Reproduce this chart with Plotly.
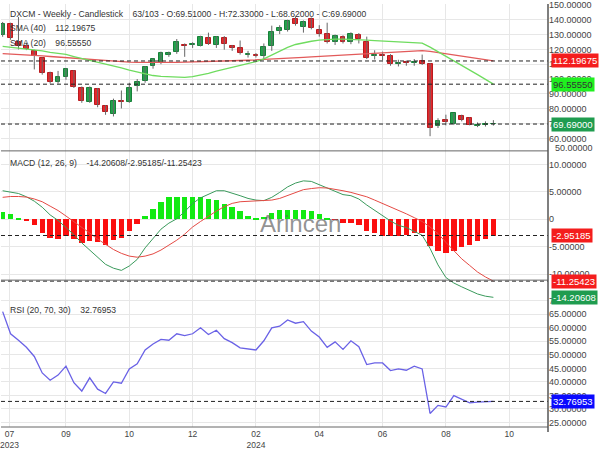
import pandas as pd
import plotly.graph_objects as go
from plotly.subplots import make_subplots

# weekly candles, first visible week -> last week
dates = pd.date_range("2023-07-10", periods=63, freq="7D")

opens = [129.7, 136.9, 124.7, 122.4, 119.0, 113.9, 103.8, 98.3, 101.1, 105.5,
         93.9, 84.6, 93.0, 81.8, 76.5, 85.2, 84.6, 95.2, 98.9, 109.0,
         111.5, 116.1, 118.1, 122.9, 122.8, 122.4, 127.5, 123.1, 128.0, 122.0,
         120.9, 116.2, 116.1, 115.8, 122.0, 132.6, 133.4, 140.7, 135.2, 140.7,
         133.4, 130.1, 124.7, 128.6, 124.7, 129.7, 125.3, 115.8, 116.0, 115.8,
         110.3, 111.2, 111.0, 112.1, 110.4, 68.1, 72.6, 69.7, 75.4, 73.6,
         68.6, 69.1, 69.51]
highs = [138.5, 138.0, 141.8, 124.5, 119.8, 114.5, 105.0, 105.5, 107.5, 106.0,
         95.0, 95.0, 94.0, 82.5, 86.8, 92.3, 97.5, 100.0, 108.8, 114.0,
         118.5, 118.5, 127.0, 124.0, 124.8, 129.2, 131.3, 129.0, 129.0, 123.0,
         126.0, 119.0, 117.5, 124.0, 136.0, 136.3, 140.0, 142.0, 139.5, 141.5,
         136.3, 138.0, 130.0, 129.5, 131.5, 131.0, 128.6, 119.4, 118.5, 116.8,
         113.0, 112.5, 113.5, 116.5, 110.7, 73.6, 76.0, 77.2, 76.0, 74.2,
         70.8, 71.5, 72.33]
lows = [128.5, 126.5, 120.0, 119.5, 106.5, 103.0, 97.0, 97.0, 99.5, 94.0,
        84.0, 84.0, 81.0, 75.9, 74.8, 80.2, 84.0, 91.7, 97.5, 107.0,
        110.0, 115.0, 117.0, 115.0, 121.0, 122.0, 123.0, 121.0, 119.8, 119.0,
        116.5, 114.5, 114.5, 113.0, 119.0, 130.3, 132.0, 136.0, 131.3, 133.5,
        128.6, 124.0, 123.0, 124.0, 123.5, 124.0, 113.5, 113.2, 112.7, 109.0,
        108.5, 109.0, 109.0, 109.5, 61.5, 67.0, 68.8, 69.0, 71.5, 68.8,
        67.6, 68.0, 68.62]
closes = [137.0, 127.5, 122.4, 120.2, 115.4, 104.0, 98.3, 101.1, 106.6, 94.5,
          85.1, 93.9, 82.5, 78.0, 85.3, 84.6, 93.9, 98.3, 108.2, 113.2,
          117.6, 117.6, 125.3, 122.0, 123.5, 128.6, 123.7, 128.6, 123.7, 121.0,
          117.6, 116.8, 115.4, 121.5, 131.9, 134.1, 139.2, 137.4, 138.5, 134.1,
          130.3, 125.3, 129.0, 124.7, 130.3, 126.8, 114.3, 116.5, 115.6, 109.9,
          110.8, 110.7, 111.6, 110.4, 67.0, 71.9, 70.8, 76.9, 72.6, 69.3,
          69.0, 69.5, 69.69]

sma40 = [117.1, 116.9, 116.6, 116.3, 116.0, 115.6, 115.2, 114.8, 114.3, 113.9,
         113.4, 113.0, 112.6, 112.2, 111.9, 111.6, 111.4, 111.3, 111.2, 111.2,
         111.2, 111.2, 111.3, 111.4, 111.5, 111.6, 111.8, 111.9, 112.1, 112.3,
         112.5, 112.7, 112.9, 113.1, 113.3, 113.6, 113.9, 114.2, 114.6, 114.9,
         115.2, 115.5, 115.8, 116.1, 116.5, 116.9, 117.3, 117.7, 118.0, 118.3,
         118.6, 118.8, 119.0, 119.2, 118.6, 117.8, 117.0, 116.1, 115.2, 114.3,
         113.5, 112.8, 112.19675]
sma20 = [122.0, 121.4, 120.8, 120.3, 119.8, 119.0, 118.0, 117.2, 116.6, 115.2,
         114.0, 112.6, 111.4, 110.3, 108.9, 107.5, 106.1, 104.7, 103.3, 102.4,
         101.8, 101.4, 101.1, 101.1, 101.6, 102.6, 103.9, 105.3, 106.6, 107.6,
         108.8, 110.2, 111.7, 113.6, 116.3, 118.8, 121.3, 123.3, 124.6, 125.5,
         126.2, 126.7, 126.9, 126.9, 126.8, 126.6, 126.3, 125.9, 125.6, 125.3,
         125.0, 124.8, 124.5, 124.2, 121.5, 118.5, 115.4, 112.3, 109.2, 106.1,
         103.0, 99.8, 96.5555]

macd = [5.2, 5.0, 4.7, 4.1, 3.3, 2.2, 0.8, -0.2, -1.5, -2.8,
        -4.3, -5.6, -7.0, -8.2, -8.9, -9.3, -8.5, -7.3, -5.2, -3.4,
        -1.8, -0.7, 0.1, 1.4, 2.9, 3.9, 4.6, 5.2, 5.2, 4.8,
        4.3, 3.8, 3.5, 3.4, 4.0, 4.9, 5.9, 6.6, 7.0, 6.9,
        6.3, 5.7, 5.0, 4.5, 4.3, 3.7, 2.6, 1.6, 0.7, -0.3,
        -1.1, -1.5, -2.2, -2.9, -5.3, -8.3, -10.6, -11.6, -12.3, -13.0,
        -13.6, -14.0, -14.20608]
signal = [4.0, 4.15, 4.15, 4.05, 3.7, 3.2, 2.4, 1.6, 0.6, -0.4,
          -1.5, -2.5, -3.6, -4.6, -5.5, -6.2, -6.7, -6.9, -6.7, -6.3,
          -5.6, -4.7, -3.8, -2.7, -1.4, -0.4, 0.6, 1.5, 2.3, 2.9,
          3.2, 3.3, 3.3, 3.4, 3.5, 3.8, 4.3, 4.9, 5.4, 5.6,
          5.75, 5.7, 5.5, 5.2, 4.9, 4.55, 4.1, 3.5, 2.9, 2.3,
          1.7, 1.0, 0.3, -0.4, -1.4, -2.6, -4.2, -5.8, -7.2, -8.4,
          -9.6, -10.5, -11.25423]
hist = [1.3, 0.9, 0.3, -0.2, -1.07, -2.4, -3.3, -3.6, -3.1, -3.6,
        -4.3, -4.0, -4.15, -4.6, -3.7, -3.3, -2.1, -0.9, 0.6, 1.96,
        3.26, 4.0, 4.0, 4.0, 4.0, 4.15, 3.8, 3.45, 2.8, 2.2,
        1.6, 0.6, 0.15, 0.5, 1.2, 1.8, 1.8, 1.8, 1.8, 1.5,
        0.9, 0.3, -0.1, -0.6, -0.6, -1.07, -2.1, -2.5, -3.0, -3.1,
        -3.0, -2.85, -2.55, -2.55, -4.9, -5.8, -6.2, -5.75, -5.05, -4.6,
        -4.0, -3.6, -2.95185]

rsi = [66.0, 57.8, 55.4, 52.8, 49.4, 43.3, 40.6, 42.5, 45.8, 39.7,
       36.6, 41.5, 37.3, 35.7, 40.0, 39.5, 44.8, 46.7, 51.8, 54.0,
       55.7, 55.4, 57.8, 57.1, 57.8, 60.0, 57.5, 59.1, 56.0, 54.5,
       52.6, 52.2, 51.8, 55.2, 60.0, 60.6, 62.9, 61.7, 62.3, 58.8,
       56.6, 52.8, 54.8, 52.0, 55.2, 53.0, 46.4, 47.0, 47.0, 44.2,
       44.8, 44.3, 45.8, 44.8, 28.3, 31.3, 30.7, 34.9, 33.4, 32.2,
       32.5, 32.7, 32.76953]
RSI_UPPER, RSI_LOWER = 70, 30

tick_dates = ["2023-07-16", "2023-09-04", "2023-10-30", "2023-12-25", "2024-02-19",
              "2024-04-15", "2024-06-10", "2024-08-05", "2024-09-30"]
tick_labels = ["07<br>2023", "09", "10", "12", "02<br>2024", "04", "06", "08", "10"]
price_ticks = [60, 70, 80, 90, 100, 110, 120, 130, 140, 150]
macd_ticks = [-10, -5, 0, 5, 10]
macd_tick_labels = ["-10.00000", "-5.00000", "0", "5.00000", "10.00000"]
rsi_ticks = [25, 30, 35, 40, 45, 50, 55, 60, 65, 70]

FONT = "Liberation Sans"
GREEN = "#24a14c"
RED = "#e4272c"
NB = "\u00a0" * 4
PLOT_H = 432


def py(px):
    # pixel offset from top of plot area -> paper coordinate
    return 1 - px / PLOT_H


fig = make_subplots(rows=3, cols=1, shared_xaxes=True, vertical_spacing=0,
                    row_heights=[150, 152, 130])

# price panel: wicks, bodies, SMAs
wick_x, wick_y = [], []
for d, lo, hi in zip(dates, lows, highs):
    wick_x += [d, d, None]
    wick_y += [lo, hi, None]
fig.add_trace(go.Scatter(x=wick_x, y=wick_y, mode="lines",
                         line=dict(color="#666666", width=1)), row=1, col=1)

body_base = [min(o, c) for o, c in zip(opens, closes)]
body_len = [abs(c - o) for o, c in zip(opens, closes)]
body_col = [GREEN if c >= o else RED for o, c in zip(opens, closes)]
body_edge = ["#178039" if c >= o else "#b81b1f" for o, c in zip(opens, closes)]
day_ms = 86400000
fig.add_trace(go.Bar(x=dates, y=body_len, base=body_base, width=4.3 * day_ms,
                     marker=dict(color=body_col, line=dict(color=body_edge, width=1))),
              row=1, col=1)
fig.add_trace(go.Scatter(x=dates, y=sma40, mode="lines",
                         line=dict(color="#e25a5a", width=1.3)), row=1, col=1)
fig.add_trace(go.Scatter(x=dates, y=sma20, mode="lines",
                         line=dict(color="#6fdc5f", width=1.3)), row=1, col=1)

# MACD panel
hist_col = ["#12ea12" if h >= 0 else "#fb0f0f" for h in hist]
fig.add_trace(go.Bar(x=dates, y=hist, width=4.8 * day_ms,
                     marker=dict(color=hist_col, line=dict(width=0))), row=2, col=1)
fig.add_trace(go.Scatter(x=dates, y=macd, mode="lines",
                         line=dict(color="#3a9a5c", width=1)), row=2, col=1)
fig.add_trace(go.Scatter(x=dates, y=signal, mode="lines",
                         line=dict(color="#e44a44", width=1)), row=2, col=1)

# RSI panel
fig.add_hline(y=RSI_UPPER, line=dict(color="#f3c682", width=2), row=3, col=1)
fig.add_hline(y=RSI_LOWER, line=dict(color="#b48cf0", width=2), row=3, col=1)
fig.add_trace(go.Scatter(x=dates, y=rsi, mode="lines",
                         line=dict(color="#6a62e6", width=1.3)), row=3, col=1)

# current value markers: dashed line + coloured box on the right axis
markers = [
    (sma40[-1], "y", "#f41d1d", "white"),
    (sma20[-1], "y", "#1ff01f", "#333333"),
    (closes[-1], "y", "#1f9c4f", "white"),
    (hist[-1], "y2", "#f41d1d", "white"),
    (signal[-1], "y2", "#f41d1d", "white"),
    (macd[-1], "y2", "#1f9c4f", "white"),
    (rsi[-1], "y3", "#0a0aff", "white"),
]
for val, yref, bg, fg in markers:
    if val != macd[-1]:
        fig.add_shape(type="line", xref="paper", x0=0, x1=1, yref=yref, y0=val, y1=val,
                      line=dict(color="#222222", width=1, dash="4px,3px"))
    fig.add_annotation(x=1, xref="paper", xanchor="left", xshift=3, y=val, yref=yref,
                       text=f"{val:.5f}", showarrow=False, bgcolor=bg, borderpad=1,
                       font=dict(family=FONT, size=9.5, color=fg))

# panel frames
for yb in [0, py(282), py(150)]:
    fig.add_shape(type="line", xref="paper", yref="paper", x0=0, x1=1, y0=yb, y1=yb,
                  line=dict(color="#666666", width=1))
fig.add_shape(type="line", xref="paper", yref="paper", x0=1, x1=1, y0=-0.012, y1=1,
              line=dict(color="#555555", width=1.5))

# panel captions
txt = dict(family=FONT, size=8.6, color="#333333")
captions = [
    (10, "DXCM - Weekly - Candlestick" + NB + f"63/103 - O:{opens[-1]:.5f} - H:{highs[-1]:.5f}"
         f" - L:{lows[-1]:.5f} - C:{closes[-1]:.5f}"),
    (25, "SMA (40)" + NB + f"{sma40[-1]:.5f}"),
    (40, "SMA (20)" + NB + f"{sma20[-1]:.5f}"),
    (162, "MACD (12, 26, 9)" + NB + f"{macd[-1]:.5f}/{hist[-1]:.5f}/{signal[-1]:.5f}"),
    (313, f"RSI (20, {RSI_UPPER}, {RSI_LOWER})" + NB + f"{rsi[-1]:.5f}"),
]
for px, t in captions:
    fig.add_annotation(x=0, xref="paper", xanchor="left", xshift=7, y=py(px), yref="paper",
                       yanchor="middle", text=t, showarrow=False, font=txt)

fig.add_annotation(x=1, xref="paper", xanchor="left", xshift=5, y=py(147), yref="paper",
                   text="50.00000", showarrow=False,
                   font=dict(family=FONT, size=9, color="#444444"))
fig.add_annotation(x=300 / 548, xref="paper", y=py(224), yref="paper", text="Arincen",
                   showarrow=False, font=dict(family=FONT, size=24, color="rgba(100,100,100,0.7)"))

grid = "#e7e7e7"
fig.update_xaxes(range=["2023-07-08 13:00", "2024-11-03 07:00"], tickvals=tick_dates,
                 ticktext=tick_labels, showgrid=True, gridcolor=grid, zeroline=False,
                 showticklabels=False, tickfont=dict(family=FONT, size=8.5, color="#444444"))
fig.update_xaxes(showticklabels=True, ticklabelstandoff=0, ticklabeloverflow="allow",
                 row=3, col=1)
fig.update_yaxes(side="right", showgrid=True, gridcolor=grid, zeroline=False,
                 tickfont=dict(family=FONT, size=9, color="#444444"))
fig.update_yaxes(range=[51.6, 150.6], tickvals=price_ticks,
                 ticktext=[f"{v:.5f}" for v in price_ticks], row=1, col=1)
fig.update_yaxes(range=[-14.64, 12.46], tickvals=macd_ticks, ticktext=macd_tick_labels,
                 row=2, col=1)
fig.update_yaxes(range=[23.3, 70.4], tickvals=rsi_ticks,
                 ticktext=[f"{v:.5f}" for v in rsi_ticks], row=3, col=1)

fig.update_layout(
    width=600, height=450,
    margin=dict(l=0, r=52, t=0, b=18),
    paper_bgcolor="white", plot_bgcolor="white",
    showlegend=False,
    bargap=0,
)

# the page body has a default 8px margin; drop it so the chart sits at the corner
fig.write_html("out.html", config={"displayModeBar": False},
               post_script="document.body.style.margin='0px';")
